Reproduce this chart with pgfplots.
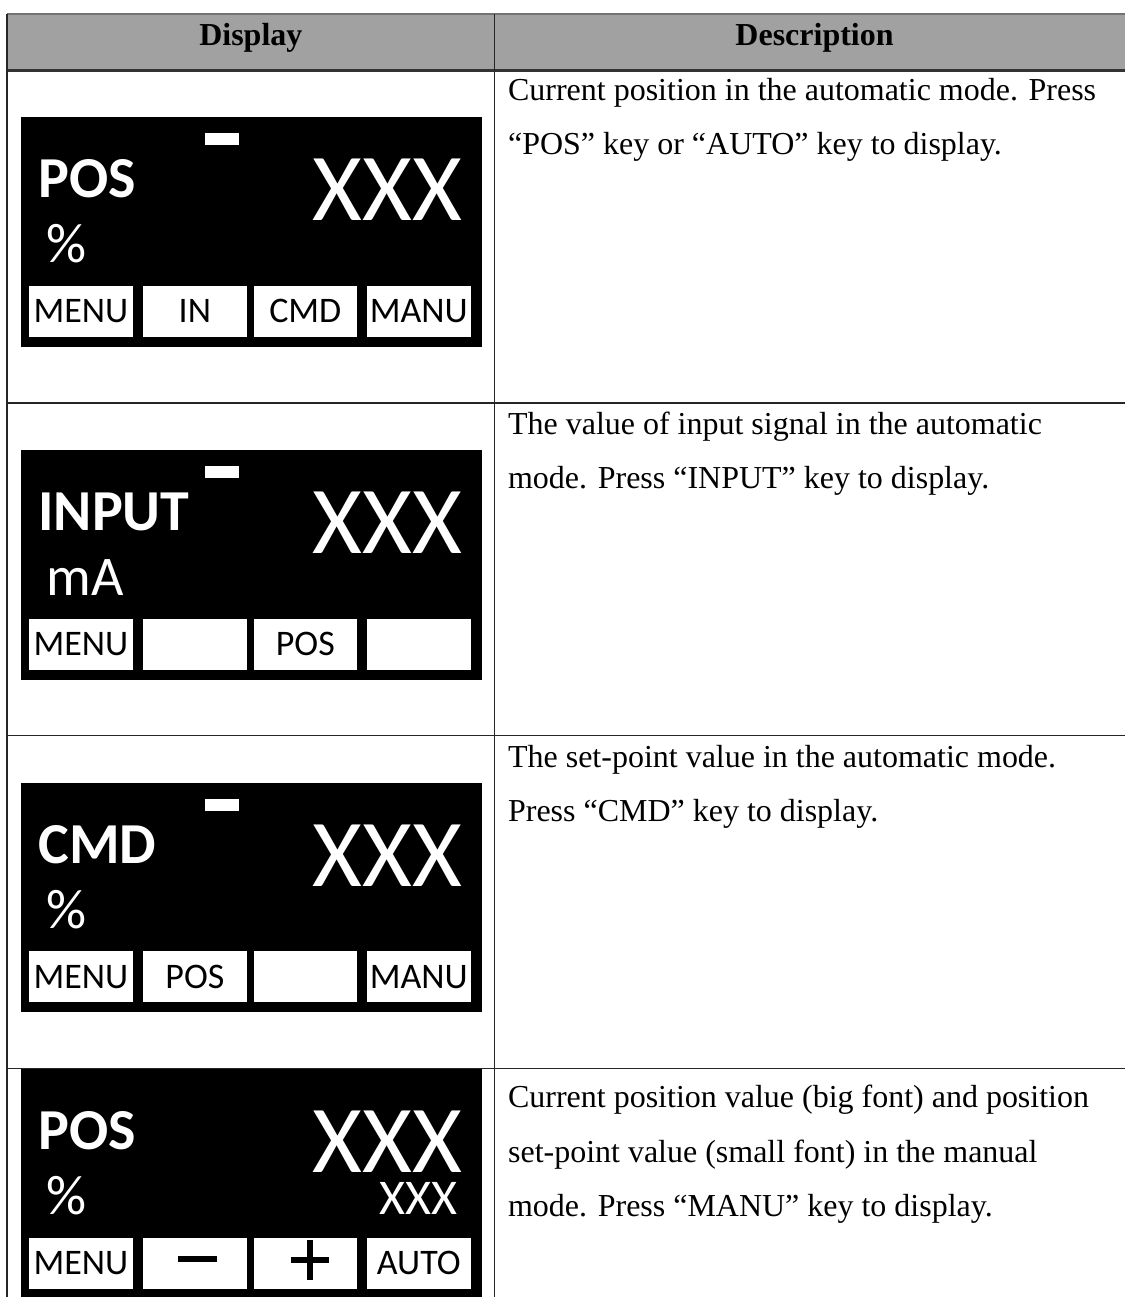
\documentclass[border=0pt]{standalone}
\usepackage{fontspec}
\setmainfont{Liberation Serif}
\newfontfamily\calib{Carlito}
\usepackage{pgfplots}
\pgfplotsset{compat=1.18}
\definecolor{hdr}{RGB}{161,161,161}
\newcommand{\lcd}[8]{%
  \fill[black] (axis cs:21,{#1}) rectangle (axis cs:482,{#8});
  \node[anchor=base west,text=white,inner sep=0pt,font=\calib\bfseries\fontsize{29}{29}\selectfont] at (axis cs:38,{#1+81}) {#2};
  \node[anchor=base west,text=white,inner sep=0pt,font=\calib\fontsize{28}{28}\selectfont] at (axis cs:46,{#1+146}) {#3};
  \node[anchor=base east,text=white,inner sep=0pt,font=\calib\fontsize{48}{48}\selectfont] at (axis cs:463,{#1+104}) {XXX};
  \fill[white] (axis cs:29,{#1+169}) rectangle (axis cs:133,{#1+220});
  \fill[white] (axis cs:143,{#1+169}) rectangle (axis cs:247,{#1+220});
  \fill[white] (axis cs:254,{#1+169}) rectangle (axis cs:357,{#1+220});
  \fill[white] (axis cs:367,{#1+169}) rectangle (axis cs:471,{#1+220});
  \node[anchor=base,inner sep=0pt,font=\calib\fontsize{18}{18}\selectfont] at (axis cs:81,{#1+206}) {#4};
  \node[anchor=base,inner sep=0pt,font=\calib\fontsize{18}{18}\selectfont] at (axis cs:195,{#1+206}) {#5};
  \node[anchor=base,inner sep=0pt,font=\calib\fontsize{18}{18}\selectfont] at (axis cs:305.5,{#1+206}) {#6};
  \node[anchor=base,inner sep=0pt,font=\calib\fontsize{18}{18}\selectfont] at (axis cs:419,{#1+206}) {#7};
}
\newcommand{\dash}[1]{\fill[white] (axis cs:205,{#1+16}) rectangle (axis cs:239,{#1+28});}
\newcommand{\desc}[3]{\node[anchor=base west,inner sep=0pt,font=\fontsize{16}{16}\selectfont] at (axis cs:#1,#2) {#3};}
\begin{document}
\begin{tikzpicture}
\begin{axis}[scale only axis, width=563pt, height=649pt,
  xmin=0, xmax=1126, ymin=0, ymax=1298, y dir=reverse,
  hide axis, clip=false]
% bounding box of the whole picture
\path (axis cs:0,0) rectangle (axis cs:1126,1298);
% header
\fill[hdr] (axis cs:7,14) rectangle (axis cs:1126,70.5);
\draw[black!55, line width=0.9pt] (axis cs:7,14) -- (axis cs:1126,14);
\draw[black!80, line width=1.1pt] (axis cs:7,70.5) -- (axis cs:1126,70.5);
\node[anchor=base,inner sep=0pt,font=\bfseries\fontsize{16}{16}\selectfont] at (axis cs:251,46) {Display};
\node[anchor=base,inner sep=0pt,font=\bfseries\fontsize{16}{16}\selectfont] at (axis cs:815,46) {Description};
% row lines
\draw[black!85, line width=0.75pt] (axis cs:7,403) -- (axis cs:1126,403);
\draw[black!85, line width=0.75pt] (axis cs:7,736) -- (axis cs:1126,736);
\draw[black!85, line width=0.75pt] (axis cs:7,1069) -- (axis cs:1126,1069);
\draw[black!85, line width=0.75pt] (axis cs:7,14) -- (axis cs:7,1298);
\draw[black!85, line width=0.75pt] (axis cs:495,14) -- (axis cs:495,1298);
% displays
\lcd{117}{POS}{\%}{MENU}{IN}{CMD}{MANU}{347}
\dash{117}
\lcd{450}{INPUT}{mA}{MENU}{}{POS}{}{680}
\dash{450}
\lcd{783}{CMD}{\%}{MENU}{POS}{}{MANU}{1013}
\dash{783}
\lcd{1069.5}{POS}{\%}{MENU}{}{}{AUTO}{1298}
\node[anchor=base east,text=white,inner sep=0pt,font=\calib\fontsize{25}{25}\selectfont] at (axis cs:458,1215) {XXX};
\fill[black] (axis cs:178,1257) rectangle (axis cs:217,1263);
\fill[black] (axis cs:291,1258) rectangle (axis cs:329,1264);
\fill[black] (axis cs:307,1241) rectangle (axis cs:313,1281);
% descriptions
\desc{508}{101}{Current position in the automatic mode. Press}
\desc{508}{155}{“POS” key or “AUTO” key to display.}
\desc{508}{435}{The value of input signal in the automatic}
\desc{508}{489}{mode. Press “INPUT” key to display.}
\desc{508}{768}{The set-point value in the automatic mode.}
\desc{508}{822}{Press “CMD” key to display.}
\desc{508}{1108}{Current position value (big font) and position}
\desc{508}{1163}{set-point value (small font) in the manual}
\desc{508}{1217}{mode. Press “MANU” key to display.}
\end{axis}
\end{tikzpicture}
\end{document}
